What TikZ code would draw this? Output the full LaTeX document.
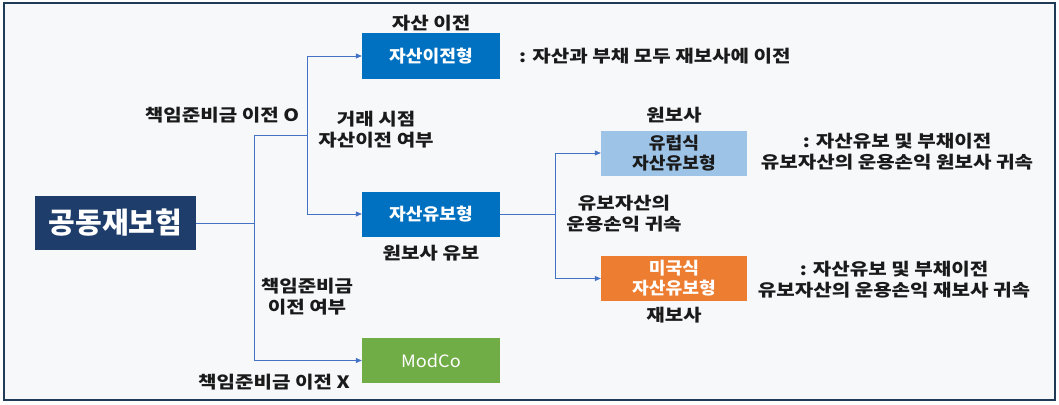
\documentclass[tikz,border=0pt]{standalone}
\usepackage{fontspec}
\setmainfont{Noto Sans CJK KR}
\newfontfamily\widefont{Noto Sans CJK KR}[FakeStretch=1.18]
\newfontfamily\boxfont{Noto Sans CJK KR}[FakeStretch=1.07]
\usetikzlibrary{arrows.meta}
\definecolor{navybox}{HTML}{1E3D6B}
\definecolor{bluebox}{HTML}{0070C0}
\definecolor{paleblue}{HTML}{9DC3E6}
\definecolor{orangebox}{HTML}{ED7D31}
\definecolor{greenbox}{HTML}{70AD47}
\definecolor{linkblue}{HTML}{4472C4}
\definecolor{paper}{HTML}{F7F8FA}
\definecolor{frame}{HTML}{1F3B57}
\definecolor{ink}{HTML}{1A1A1A}

\begin{document}
\begin{tikzpicture}[x=1pt,y=-1pt,
  box/.style={minimum width=138pt, minimum height=45pt, inner sep=0pt, text=white,
    align=center, font=\boxfont\bfseries\fontsize{17}{20}\selectfont},
  lbl/.style={inner sep=0pt, align=center, text=ink, font=\widefont\bfseries\fontsize{17}{21}\selectfont},
  link/.style={draw=linkblue, line width=0.8pt},
  >={Triangle[length=6pt,width=5pt]}]
  \useasboundingbox (0,0) rectangle (1059,404);
  \fill[white] (0,0) rectangle (1059,404);
  \draw[fill=paper, draw=frame, line width=1.2pt] (4,3) rectangle (1055,400);

  % boxes
  \node[box, fill=navybox, minimum width=161pt, minimum height=54pt,
    font=\bfseries\fontsize{29}{32}\selectfont] (coins) at (115.5,223) {공동재보험};
  \node[box, fill=bluebox] (transfer) at (431,56) {자산이전형};
  \node[box, fill=bluebox] (retain) at (431,214) {자산유보형};
  \node[box, fill=greenbox, font=\boxfont\fontsize{17}{20}\selectfont] (modco) at (431,360.5) {ModCo};
  \node[box, fill=paleblue, text=ink, minimum width=146pt] (euro) at (674,153) {유럽식\\자산유보형};
  \node[box, fill=orangebox, minimum width=146pt] (us) at (674,278.5) {미국식\\자산유보형};

  % connectors
  \coordinate (fork) at (254,135);
  \coordinate (fork2) at (307,135);
  \coordinate (fork3) at (555,214);
  \draw[link,->] (coins.east) -| (fork) -- (fork2) |- (transfer.west);
  \draw[link,->] (fork2) |- (retain.west);
  \draw[link,->] (fork) |- (modco.west);
  \draw[link] (retain.east) -- (fork3);
  \draw[link,->] (fork3) |- (euro.west);
  \draw[link,->] (fork3) |- (us.west);

  % labels
  \node[lbl] (transfer lbl) at (431,23) {자산 이전};
  \node[lbl, anchor=west] (transfer note) at (519,56) {: 자산과 부채 모두 재보사에 이전};
  \node[lbl] (reserve yes) at (222,115) {책임준비금 이전 O};
  \node[lbl] (asset q) at (376,130) {거래 시점\\자산이전 여부};
  \node[lbl] (retain lbl) at (431,253) {원보사 유보};
  \node[lbl] (euro lbl) at (674,115) {원보사};
  \node[lbl] (euro note) at (897,152) {: 자산유보 및 부채이전\\유보자산의 운용손익 원보사 귀속};
  \node[lbl] (gain q) at (624,214) {유보자산의\\운용손익 귀속};
  \node[lbl] (us note) at (894,280) {: 자산유보 및 부채이전\\유보자산의 운용손익 재보사 귀속};
  \node[lbl] (us lbl) at (674,315) {재보사};
  \node[lbl] (reserve q) at (307,297) {책임준비금\\이전 여부};
  \node[lbl] (reserve no) at (274,382) {책임준비금 이전 X};
\end{tikzpicture}
\end{document}
